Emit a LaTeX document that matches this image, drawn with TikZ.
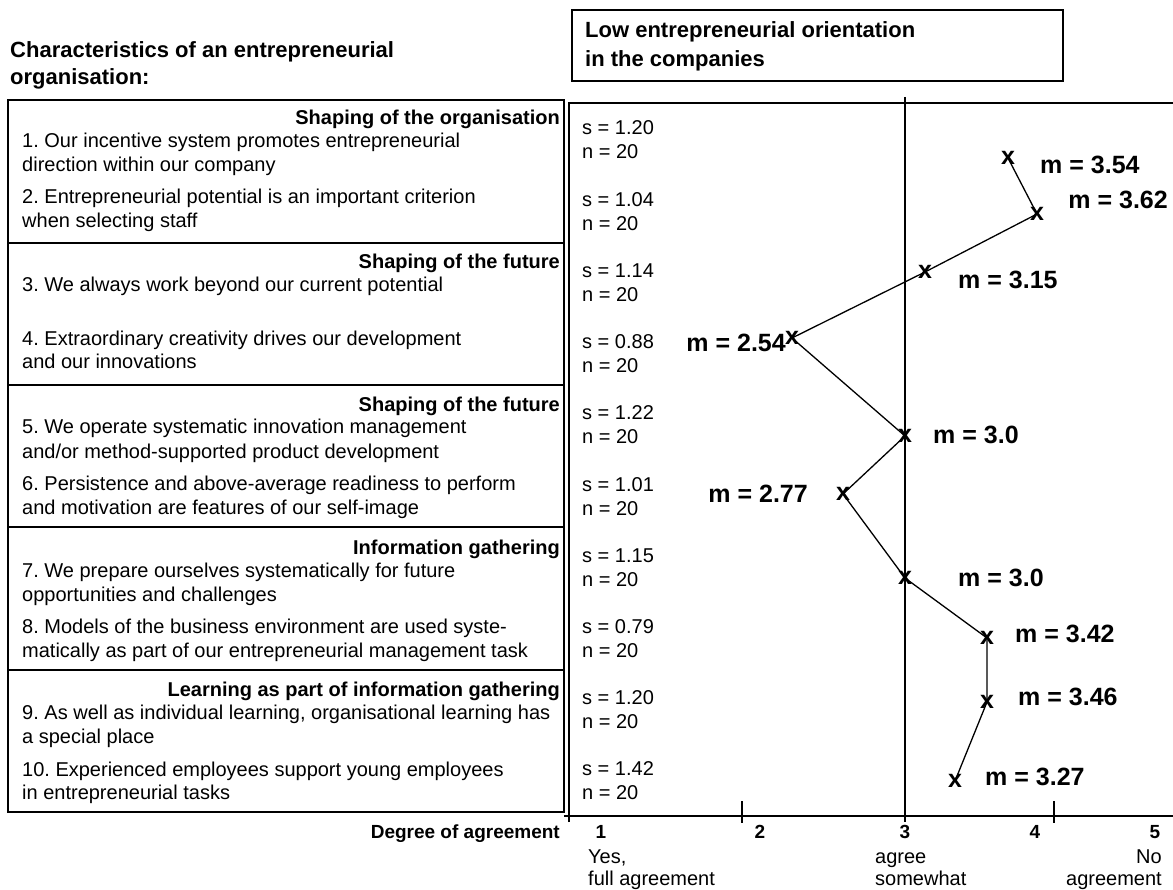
\documentclass[tikz,border=0pt]{standalone}
\usepackage{fontspec}
\setmainfont{Liberation Sans}
\frenchspacing
\begin{document}
\begin{tikzpicture}[x=1pt,y=-1pt,
  frame/.style={line width=1.6pt},
  thin frame/.style={line width=1.3pt},
  body/.style={anchor=base west, inner sep=0pt, font=\fontsize{20}{24}\selectfont},
  head/.style={anchor=base east, inner sep=0pt, font=\bfseries\fontsize{20}{24}\selectfont},
  ttl/.style={anchor=base west, inner sep=0pt, font=\bfseries\fontsize{22}{26}\selectfont},
  axnum/.style={anchor=base, inner sep=0pt, font=\bfseries\fontsize{19}{22}\selectfont},
  axlab/.style={inner sep=0pt, font=\fontsize{20}{24}\selectfont},
  cross/.style={inner sep=0pt, font=\bfseries\fontsize{25}{25}\selectfont},
  mlab/.style={inner sep=0pt, font=\bfseries\fontsize{25}{25}\selectfont},
  trace/.style={line width=1.3pt}]
\useasboundingbox (0,0) rectangle (1173,890);

% headings
\node[ttl] (t1) at (10,58) {Characteristics of an entrepreneurial};
\node[ttl] (t2) at (10,85) {organisation:};
\draw[frame] (572,10) rectangle (1063,81);
\node[ttl] (t3) at (585,38) {Low entrepreneurial orientation};
\node[ttl] (t4) at (585,67) {in the companies};

% left table of statements
\draw[frame] (8,100) rectangle (564,812);
\foreach \yy in {243,385,527,670} \draw[frame] (8,\yy) -- (564,\yy);

\node[head] (h1) at (560,125) {Shaping of the organisation};
\node[body] at (22,148) {1. Our incentive system promotes entrepreneurial};
\node[body] at (22,172) {direction within our company};
\node[body] at (22,204) {2. Entrepreneurial potential is an important criterion};
\node[body] at (22,228) {when selecting staff};

\node[head] (h2) at (560,269) {Shaping of the future};
\node[body] at (22,292) {3. We always work beyond our current potential};
\node[body] at (22,346) {4. Extraordinary creativity drives our development};
\node[body] at (22,369) {and our innovations};

\node[head] (h3) at (560,412) {Shaping of the future};
\node[body] at (22,434) {5. We operate systematic innovation management};
\node[body] at (22,458) {and/or method-supported product development};
\node[body] at (22,490) {6. Persistence and above-average readiness to perform};
\node[body] at (22,514) {and motivation are features of our self-image};

\node[head] (h4) at (560,554) {Information gathering};
\node[body] at (22,577) {7. We prepare ourselves systematically for future};
\node[body] at (22,601) {opportunities and challenges};
\node[body] at (22,633) {8. Models of the business environment are used syste-};
\node[body] at (22,657) {matically as part of our entrepreneurial management task};

\node[head] (h5) at (560,696) {Learning as part of information gathering};
\node[body] at (22,719) {9. As well as individual learning, organisational learning has};
\node[body] at (22,743) {a special place};
\node[body] at (22,776) {10. Experienced employees support young employees};
\node[body] at (22,799) {in entrepreneurial tasks};

% chart panel
\draw[frame] (569,822) -- (569,103) -- (1173,103);
\draw[thin frame] (905,97) -- (905,822);
\draw[frame] (564,816) -- (1173,816);
\foreach \xx in {742,1054} \draw[thin frame] (\xx,801) -- (\xx,823);

% standard deviations and sample sizes
\foreach \sv [count=\k from 0] in {1.20,1.04,1.14,0.88,1.22,1.01,1.15,0.79,1.20,1.42} {
  \node[body] (s\k) at (582,135+71.2*\k) {s = \sv};
  \node[body] (n\k) at (582,159+71.2*\k) {n = 20};
}

% axis labels
\node[anchor=base east, inner sep=0pt, font=\bfseries\fontsize{19}{22}\selectfont] (deg) at (560,838) {Degree of agreement};
\node[axnum] (a1) at (601,838) {1};
\node[axnum] (a2) at (760,838) {2};
\node[axnum] (a3) at (905,838) {3};
\node[axnum] (a4) at (1035,838) {4};
\node[axnum] (a5) at (1155,838) {5};
\node[axlab, anchor=base west] (y1) at (588,863) {Yes,};
\node[axlab, anchor=base west] (y2) at (588,885) {full agreement};
\node[axlab, anchor=base west] (g1) at (875,863) {agree};
\node[axlab, anchor=base west] (g2) at (875,885) {somewhat};
\node[axlab, anchor=base east] (o1) at (1162,863) {No};
\node[axlab, anchor=base east] (o2) at (1162,885) {agreement};

% mean values
\node[cross] (p1) at (1008,158) {x};
\node[cross] (p2) at (1037,214) {x};
\node[cross] (p3) at (925,272) {x};
\node[cross] (p4) at (792,338) {x};
\node[cross] (p5) at (905,436) {x};
\node[cross] (p6) at (843,494) {x};
\node[cross] (p7) at (905,578) {x};
\node[cross] (p8) at (987,638) {x};
\node[cross] (p9) at (987,702) {x};
\node[cross] (p10) at (955,781) {x};

\draw[trace] (p1.center) -- (p2.center) -- (p3.center) -- (p4.center)
  -- (p5.center) -- (p6.center) -- (p7.center) -- (p8.center)
  -- (p9.center) -- (p10.center);

\node[mlab, anchor=west] (m1) at (1040,165) {m = 3.54};
\node[mlab, anchor=east] (m2) at (1168,200) {m = 3.62};
\node[mlab, anchor=west] (m3) at (958,280) {m = 3.15};
\node[mlab, anchor=east] (m4) at (786,343) {m = 2.54};
\node[mlab, anchor=west] (m5) at (933,435) {m = 3.0};
\node[mlab, anchor=east] (m6) at (808,494) {m = 2.77};
\node[mlab, anchor=west] (m7) at (958,578) {m = 3.0};
\node[mlab, anchor=west] (m8) at (1015,634) {m = 3.42};
\node[mlab, anchor=west] (m9) at (1018,697) {m = 3.46};
\node[mlab, anchor=west] (m10) at (985,777) {m = 3.27};
\end{tikzpicture}
\end{document}
